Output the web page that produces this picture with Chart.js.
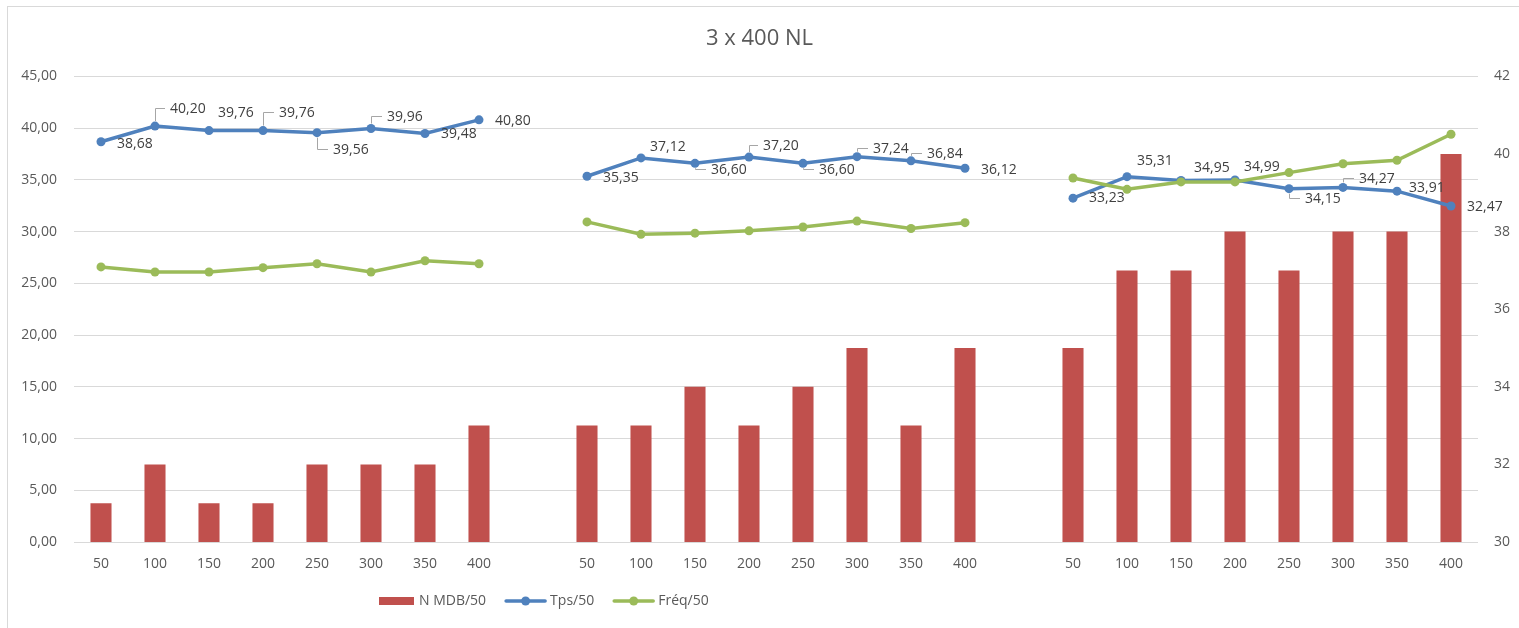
<!DOCTYPE html>
<html>
<head>
<meta charset="utf-8">
<title>3 x 400 NL</title>
<script src="https://cdn.jsdelivr.net/npm/chart.js@4.4.0/dist/chart.umd.min.js"></script>
<style>
    html, body { margin: 0; padding: 0; background: #fff; overflow: hidden; }
    #frame { position: absolute; left: 7px; top: 6px; width: 1600px; height: 700px; border: 1px solid #d9d9d9; }
    #wrap { position: absolute; left: 0; top: 0; width: 1519px; height: 628px; }
</style>
</head>
<body>
<div id="frame"></div>
<div id="wrap"><canvas id="chart"></canvas></div>
<script>
// three runs of 50..400, separated by an empty category
const categories = ['50', '100', '150', '200', '250', '300', '350', '400', '',
                    '50', '100', '150', '200', '250', '300', '350', '400', '',
                    '50', '100', '150', '200', '250', '300', '350', '400'];

const nMdb = [31, 32, 31, 31, 32, 32, 32, 33, null,
              33, 33, 34, 33, 34, 35, 33, 35, null,
              35, 37, 37, 38, 37, 38, 38, 40];

const tps = [38.68, 40.20, 39.76, 39.76, 39.56, 39.96, 39.48, 40.80, null,
             35.35, 37.12, 36.60, 37.20, 36.60, 37.24, 36.84, 36.12, null,
             33.23, 35.31, 34.95, 34.99, 34.15, 34.27, 33.91, 32.47];

const freq = [37.09, 36.96, 36.96, 37.07, 37.17, 36.96, 37.25, 37.17, null,
              38.25, 37.93, 37.96, 38.02, 38.12, 38.27, 38.08, 38.23, null,
              39.38, 39.09, 39.28, 39.28, 39.52, 39.75, 39.84, 40.51];

const leftTicks = { min: 0, max: 45, step: 5 };
const rightTicks = { min: 30, max: 42, step: 2 };

// label placement for the Tps values: [dx, dy, leader line]
const tpsLabelPos = [
    [16, 2, false], [15, -17, true], [9, -18, false], [16, -18, true],
    [16, 17, true], [16, -12, true], [16, 1, false], [16, 1, false], null,
    [16, 2, false], [9, -11, false], [16, 7, true], [14, -11, true],
    [16, 7, true], [16, -8, true], [16, -7, true], [16, 2, false], null,
    [16, 0, false], [10, -16, false], [13, -12, false], [9, -13, false],
    [16, 10, true], [16, -8, true], [12, -3, false], [16, 1, false]
];

const RED = '#c0504d';
const BLUE = '#4f81bd';
const GREEN = '#9bbb59';
const FONT = '"Open Sans", "DejaVu Sans", sans-serif';

const fmt = v => v.toFixed(2).replace('.', ',');

const tpsLabels = {
    id: 'tpsLabels',
    afterDatasetsDraw(chart) {
        const meta = chart.getDatasetMeta(1);
        const ctx = chart.ctx;
        ctx.save();
        ctx.font = '14px ' + FONT;
        ctx.fillStyle = '#404040';
        ctx.textBaseline = 'middle';
        ctx.textAlign = 'left';
        ctx.strokeStyle = '#a6a6a6';
        ctx.lineWidth = 1;
        meta.data.forEach((pt, i) => {
            const v = tps[i];
            const pos = tpsLabelPos[i];
            if (v === null || !pos) return;
            const [dx, dy, leader] = pos;
            const lx = pt.x + dx;
            const ly = pt.y + dy;
            if (leader) {
                const ey = Math.round(ly - 1) + 0.5;
                const px = Math.round(pt.x) + 0.5;
                ctx.beginPath();
                if (Math.abs(dy) > 6) {
                    ctx.moveTo(px, pt.y + Math.sign(dy) * 5);
                    ctx.lineTo(px, ey);
                } else {
                    ctx.moveTo(px + 2, ey);
                }
                ctx.lineTo(lx - 5, ey);
                ctx.stroke();
            }
            ctx.fillText(fmt(v), lx, ly);
        });
        ctx.restore();
    }
};

const customLegend = {
    id: 'customLegend',
    afterDraw(chart) {
        const ctx = chart.ctx;
        const y = 601;
        let x = 379;
        ctx.save();
        ctx.font = '14px ' + FONT;
        ctx.fillStyle = '#595959';
        ctx.textBaseline = 'middle';
        const items = [
            { text: 'N MDB/50', type: 'bar', color: RED },
            { text: 'Tps/50', type: 'line', color: BLUE },
            { text: 'Fréq/50', type: 'line', color: GREEN }
        ];
        items.forEach(item => {
            if (item.type === 'bar') {
                ctx.fillStyle = item.color;
                ctx.fillRect(x, y - 4, 35, 8);
                x += 35;
            } else {
                ctx.strokeStyle = item.color;
                ctx.lineWidth = 3.5;
                ctx.lineCap = 'round';
                ctx.beginPath();
                ctx.moveTo(x, y);
                ctx.lineTo(x + 39, y);
                ctx.stroke();
                ctx.fillStyle = item.color;
                ctx.beginPath();
                ctx.arc(x + 19.5, y, 4.5, 0, Math.PI * 2);
                ctx.fill();
                x += 39;
            }
            x += 5;
            ctx.fillStyle = '#595959';
            ctx.fillText(item.text, x, y);
            x += ctx.measureText(item.text).width + 20;
        });
        ctx.restore();
    }
};

Chart.defaults.font.family = FONT;
Chart.defaults.font.size = 14;
Chart.defaults.color = '#595959';

new Chart(document.getElementById('chart'), {
    type: 'bar',
    data: {
        labels: categories,
        datasets: [{
            type: 'bar',
            label: 'N MDB/50',
            data: nMdb,
            yAxisID: 'y2',
            backgroundColor: RED,
            barPercentage: 0.39,
            categoryPercentage: 1,
            order: 3
        }, {
            type: 'line',
            label: 'Tps/50',
            data: tps,
            yAxisID: 'y',
            borderColor: BLUE,
            backgroundColor: BLUE,
            borderWidth: 3.5,
            pointRadius: 4.5,
            pointBorderWidth: 0,
            tension: 0,
            spanGaps: false,
            order: 2
        }, {
            type: 'line',
            label: 'Fréq/50',
            data: freq,
            yAxisID: 'y2',
            borderColor: GREEN,
            backgroundColor: GREEN,
            borderWidth: 3.5,
            pointRadius: 4.5,
            pointBorderWidth: 0,
            tension: 0,
            spanGaps: false,
            order: 1
        }]
    },
    options: {
        responsive: true,
        maintainAspectRatio: false,
        animation: false,
        layout: { padding: 0 },
        scales: {
            x: {
                grid: { display: false, drawTicks: false },
                border: { display: false },
                ticks: { autoSkip: false, maxRotation: 0, padding: 14, color: '#595959' },
                afterFit: scale => { scale.height = 86; }
            },
            y: {
                position: 'left',
                min: leftTicks.min,
                max: leftTicks.max,
                grid: { color: '#d9d9d9', drawTicks: false },
                border: { display: false },
                ticks: {
                    stepSize: leftTicks.step,
                    padding: 17,
                    callback: v => fmt(v)
                },
                afterFit: scale => { scale.width = 74; }
            },
            y2: {
                position: 'right',
                min: rightTicks.min,
                max: rightTicks.max,
                grid: { drawOnChartArea: false, drawTicks: false },
                border: { display: false },
                ticks: { stepSize: rightTicks.step, padding: 16 },
                afterFit: scale => { scale.width = 41; }
            }
        },
        plugins: {
            legend: { display: false },
            tooltip: { enabled: false },
            title: {
                display: true,
                text: '3 x 400 NL',
                color: '#595959',
                font: { size: 22, weight: 'normal' },
                padding: { top: 26, bottom: 24 }
            }
        }
    },
    plugins: [tpsLabels, customLegend]
});
</script>
</body>
</html>
